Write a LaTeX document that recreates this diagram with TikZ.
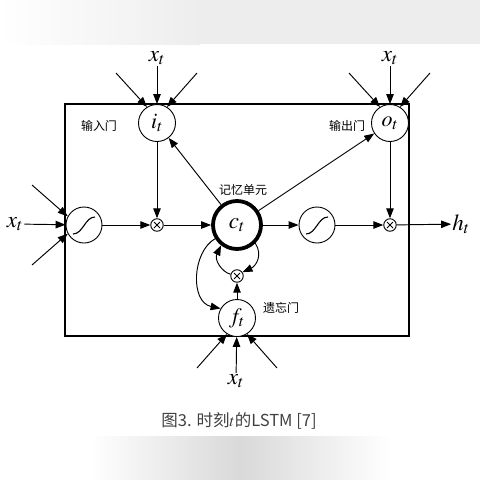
\documentclass[tikz,border=0pt]{standalone}
\usepackage{mathptmx}
\usepackage{fontspec}
\newfontfamily\cjk{Noto Sans CJK SC}
\usetikzlibrary{arrows.meta}
\begin{document}
\begin{tikzpicture}[x=1pt,y=-1pt,
  arr/.style={-{Triangle[length=10pt,width=7.5pt]}, line width=0.95pt},
  gate/.style={circle,draw,fill=white,line width=0.9pt,minimum size=37pt,inner sep=0pt,font=\fontsize{22}{22}\selectfont},
  cell/.style={circle,draw,fill=white,line width=3.8pt,minimum size=48pt,inner sep=0pt,font=\fontsize{23}{23}\selectfont},
  mult/.style={circle,draw,fill=white,line width=0.9pt,minimum size=12.5pt,inner sep=0pt,
    path picture={\draw[line width=0.9pt] ([shift={(-3,-3)}]path picture bounding box.center) -- ([shift={(3,3)}]path picture bounding box.center);
                  \draw[line width=0.9pt] ([shift={(-3,3)}]path picture bounding box.center) -- ([shift={(3,-3)}]path picture bounding box.center);}},
  sig/.style={circle,draw,fill=white,line width=0.9pt,minimum size=36pt,inner sep=0pt,
    path picture={\draw[line width=1.1pt] ([shift={(-11,9)}]path picture bounding box.center) .. controls ([shift={(-1,9)}]path picture bounding box.center) and ([shift={(1,-8)}]path picture bounding box.center) .. ([shift={(11,-8)}]path picture bounding box.center);}},
  var/.style={font=\fontsize{23}{23}\selectfont,inner sep=1pt},
  lbl/.style={font=\cjk\fontsize{12}{12}\selectfont,inner sep=0pt},
  frame/.style={draw,line width=1.1pt}
]
\useasboundingbox (0,0) rectangle (480,480);
% photo background artefacts
\shade[left color=white,right color=black!7] (0,0) rectangle (200,44);
\fill[black!7] (200,0) rectangle (480,44);
\shade[left color=white,right color=white,middle color=black!15] (90,436) rectangle (390,480);

% frame
\draw[frame] (65,104) rectangle (409,336);

% nodes
\node[gate] (it) at (157,123) {$i_t$};
\node[gate] (ot) at (390,123) {$o_t$};
\node[cell] (ct) at (237,225) {$c_t$};
\node[gate] (ft) at (237,318) {$f_t$};
\node[sig] (sigL) at (84,225) {};
\node[sig] (sigR) at (317,225) {};
\node[mult] (mulL) at (157,225) {};
\node[mult] (mulR) at (390,225) {};
\node[mult] (mulB) at (237,276) {};

% inputs
\node[var] (xtop) at (157,58) {$x_t$};
\node[var] (xotop) at (390,58) {$x_t$};
\node[var] (xl) at (15,224) {$x_t$};
\node[var] (xb) at (236,381) {$x_t$};
\node[var] (ht) at (461,224) {$h_t$};

\coordinate (itA) at (116,73);
\coordinate (itB) at (197,73);
\coordinate (otA) at (349,73);
\coordinate (otB) at (430,73);
\coordinate (slA) at (32,185);
\coordinate (slB) at (32,265);
\coordinate (ftA) at (197,368);
\coordinate (ftB) at (277,368);

\draw[arr] (xtop) -- (it);
\draw[arr] (itA) -- (it.122);
\draw[arr] (itB) -- (it.58);
\draw[arr] (xotop) -- (ot);
\draw[arr] (otA) -- (ot.122);
\draw[arr] (otB) -- (ot.58);
\draw[arr] (xl) -- (sigL);
\draw[arr] (slA) -- (sigL.152);
\draw[arr] (slB) -- (sigL.208);
\draw[arr] (xb) -- (ft);
\draw[arr] (ftA) -- (ft.238);
\draw[arr] (ftB) -- (ft.302);

% internal connectors
\draw[arr] (sigL) -- (mulL);
\draw[arr] (it) -- (mulL);
\draw[arr] (mulL) -- (ct);
\draw[arr] (ct) -- (it);
\draw[arr] (ct) -- (ot);
\draw[arr] (ct) -- (sigR);
\draw[arr] (sigR) -- (mulR);
\draw[arr] (ot) -- (mulR);
\draw[arr] (mulR) -- (ht);
\draw[arr] (ft) -- (mulB);
\draw[arr] (ct.212) .. controls (192,252) and (190,302) .. (ft.150);
\draw[arr] (ct.315) .. controls (263,255) and (256,266) .. (mulB.35);
\draw[arr] (mulB.165) .. controls (222,272) and (214,260) .. (ct.232);

% labels
\node[lbl] (l1) at (99,126) {输入门};
\node[lbl] (l2) at (347,126) {输出门};
\node[lbl] (l3) at (243,190) {记忆单元};
\node[lbl] (l4) at (281,308) {遗忘门};

\node[font=\cjk\fontsize{16.5}{16.5}\selectfont,text=black!75,inner sep=0pt] (cap) at (239,421) {图3. 时刻$t$的LSTM [7]};
\end{tikzpicture}
\end{document}
